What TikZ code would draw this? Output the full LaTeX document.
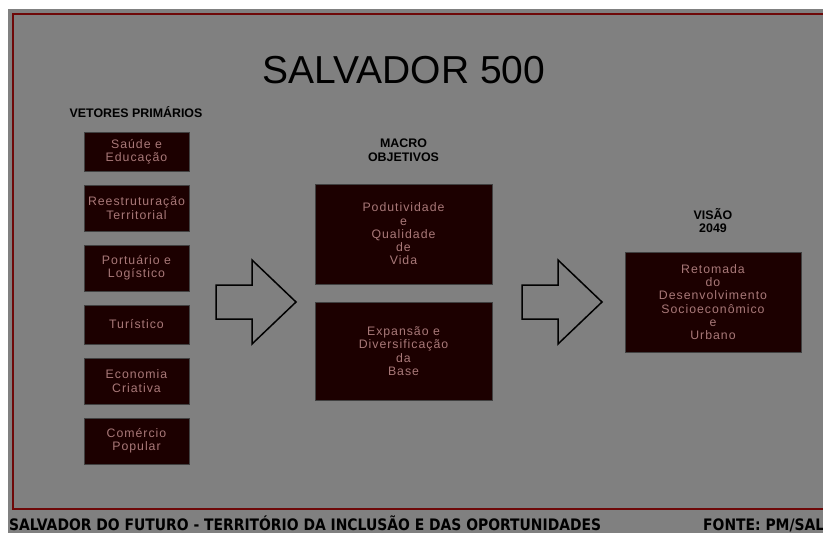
\documentclass[tikz,border=0pt]{standalone}
\usepackage{fontspec}
\setmainfont{Liberation Sans}
\newfontfamily\boxfont[LetterSpace=8]{Liberation Sans}
\newfontfamily\footfont[FakeStretch=0.88]{DejaVu Sans}
\usetikzlibrary{positioning}
\definecolor{panelgray}{RGB}{128,128,128}
\definecolor{framered}{RGB}{110,8,8}
\definecolor{boxfill}{RGB}{28,0,0}
\definecolor{boxtext}{RGB}{168,120,120}
\tikzset{
  vetor/.style={draw=black!75, line width=0.8pt, fill=boxfill, text=boxtext,
    minimum width=105pt, align=center, inner sep=0pt,
    font=\boxfont\fontsize{12.3}{13.3}\selectfont},
  macro/.style={vetor, minimum width=177pt, minimum height=99pt},
  heading/.style={align=center, font=\bfseries\fontsize{12.4}{13.5}\selectfont},
  bigarrow/.style={draw=black, line width=1.5pt, line join=miter},
}

\begin{document}
\begin{tikzpicture}[x=1pt, y=-1pt]
        \useasboundingbox (0,0) rectangle (823,533);
        \clip (0,0) rectangle (823,533);
        % Panel
        \fill[white] (0,0) rectangle (823,533);
        \fill[panelgray] (8,9) rectangle (830,540);
        \draw[framered, line width=1.6pt] (13,14) rectangle (830,509);

        % Title
        \node[font=\fontsize{39}{41}\selectfont] (titulo) at (404,70) {SALVADOR 500};

        % Vetores primarios
        \node[heading] (vetores) at (136,112) {VETORES PRIM\'ARIOS};
        \node[vetor, minimum height=39pt] (saude) at (136.5,151.5) {Sa\'ude e\\Educa\c{c}\~ao};
        \node[vetor, minimum height=46pt] (reestr) at (136.5,208) {Reestrutura\c{c}\~ao\\Territorial};
        \node[vetor, minimum height=46pt] (porto) at (136.5,268) {Portu\'ario e\\Log\'istico};
        \node[vetor, minimum height=39pt] (turismo) at (136.5,324.5) {Tur\'istico};
        \node[vetor, minimum height=46pt] (economia) at (136.5,381) {Economia\\Criativa};
        \node[vetor, minimum height=46pt] (comercio) at (136.5,441) {Com\'ercio\\Popular};

        % Macro objetivos
        \node[heading] (macroobj) at (403.5,150) {MACRO\\OBJETIVOS};
        \node[macro, minimum height=100pt] (produtiv) at (403.5,234) {Podutividade\\e\\Qualidade\\de\\Vida};
        \node[macro, minimum height=98pt] (expansao) at (403.5,351) {Expans\~ao e\\Diversifica\c{c}\~ao\\da\\Base};

        % Visao
        \node[heading] (visao) at (713,220.5) {VIS\~AO\\2049};
        \node[macro, minimum width=176pt, minimum height=100pt] (retomada) at (713,302)
            {Retomada\\do\\Desenvolvimento\\Socioecon\^omico\\e\\Urbano};

        % Arrows
        \draw[bigarrow] (216,285) -- (252,285) -- (252,260) -- (296,302) -- (252,344) -- (252,319) -- (216,319) -- cycle;
        \draw[bigarrow] (522,285) -- (558,285) -- (558,260) -- (602,302) -- (558,344) -- (558,319) -- (522,319) -- cycle;

        % Footer
        \node[anchor=base west, inner sep=0pt, font=\footfont\bfseries\fontsize{15.8}{17}\selectfont] (rodape) at (9,530)
            {SALVADOR DO FUTURO - TERRIT\'ORIO DA INCLUS\~AO E DAS OPORTUNIDADES};
        \node[anchor=base west, inner sep=0pt, font=\footfont\bfseries\fontsize{15.8}{17}\selectfont] (fonte) at (703,530)
            {FONTE: PM/SAL};
    \end{tikzpicture}
\end{document}
